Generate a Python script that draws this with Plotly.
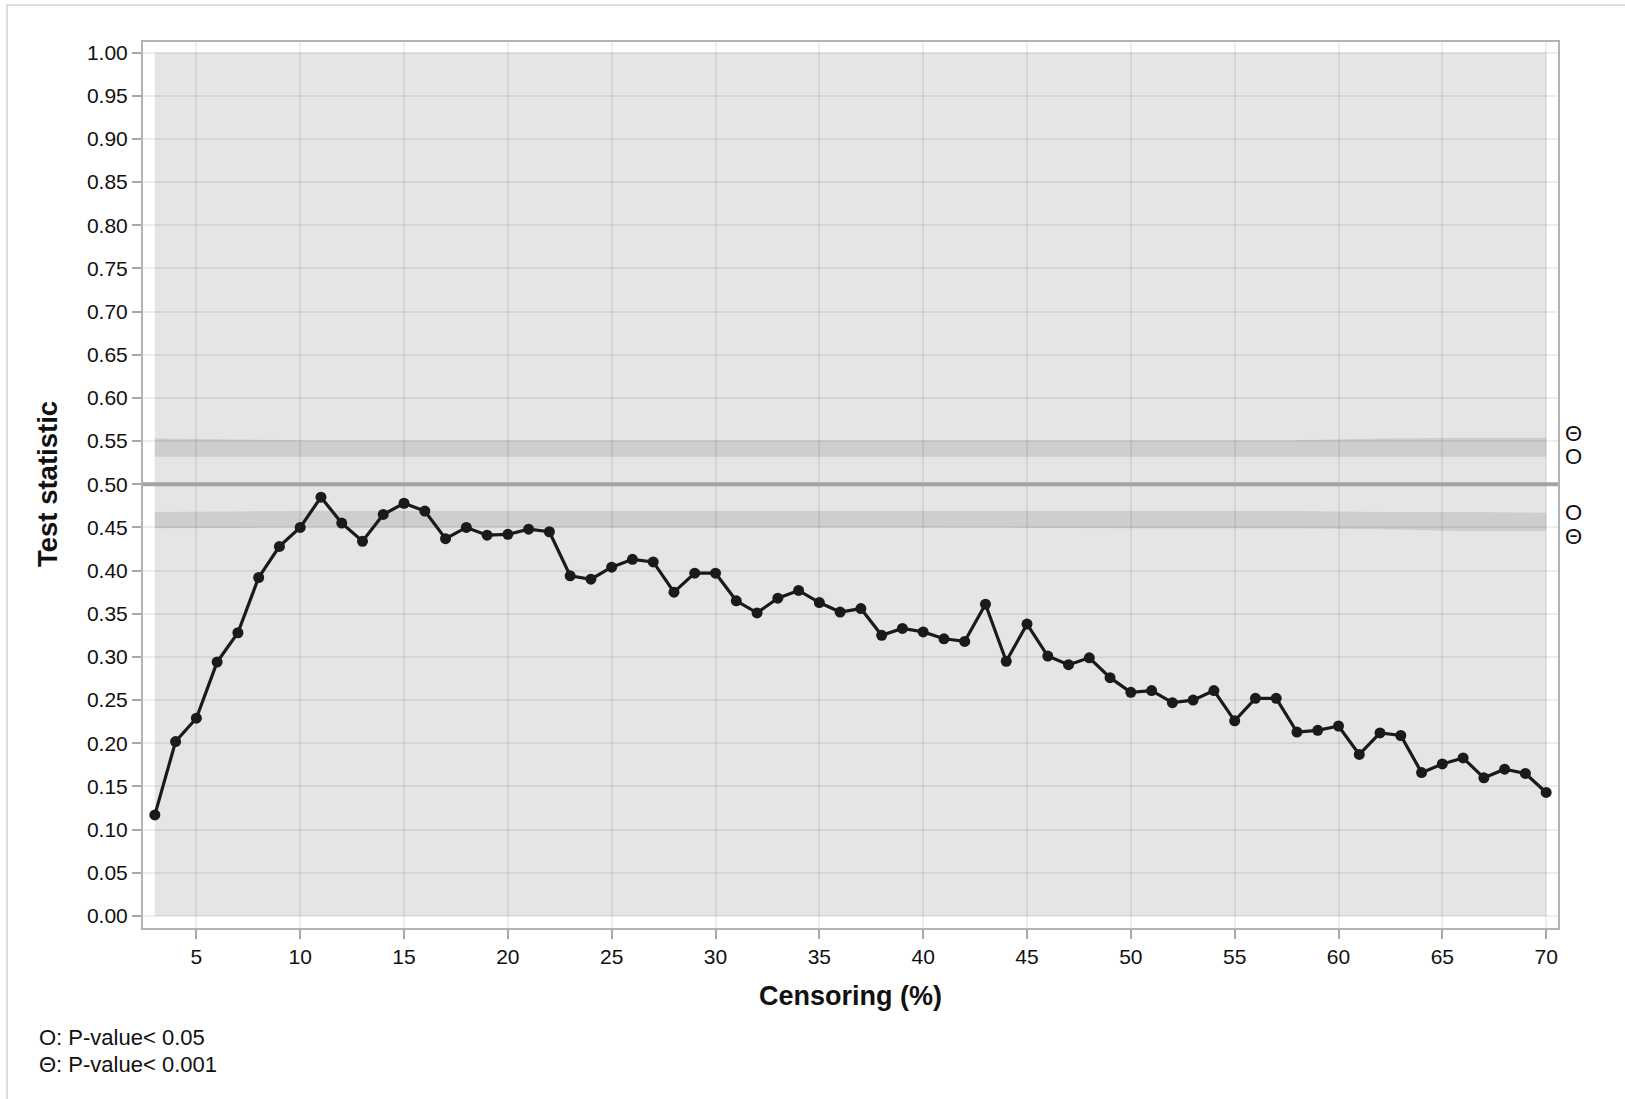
import plotly.graph_objects as go

# Censoring level (%) and observed test statistic
censoring = list(range(3, 71))
statistic = [
    0.117, 0.202, 0.229, 0.294, 0.328, 0.392, 0.428, 0.450, 0.485, 0.455,
    0.434, 0.465, 0.478, 0.469, 0.437, 0.450, 0.441, 0.442, 0.448, 0.445,
    0.394, 0.390, 0.404, 0.413, 0.410, 0.375, 0.397, 0.397, 0.365, 0.351,
    0.368, 0.377, 0.363, 0.352, 0.356, 0.325, 0.333, 0.329, 0.321, 0.318,
    0.361, 0.295, 0.338, 0.301, 0.291, 0.299, 0.276, 0.259, 0.261, 0.247,
    0.250, 0.261, 0.226, 0.252, 0.252, 0.213, 0.215, 0.220, 0.187, 0.212,
    0.209, 0.166, 0.176, 0.183, 0.160, 0.170, 0.165, 0.143,
]

# Critical-value bands (upper and lower) across the censoring range
band_x = [3, 10, 20, 30, 40, 50, 58, 62, 66, 70]
upper_p001 = [0.553, 0.551, 0.551, 0.551, 0.551, 0.551, 0.551, 0.553, 0.554, 0.554]
upper_p05 = [0.532, 0.532, 0.532, 0.532, 0.532, 0.532, 0.532, 0.532, 0.532, 0.532]
lower_p05 = [0.468, 0.469, 0.469, 0.469, 0.469, 0.469, 0.469, 0.468, 0.468, 0.467]
lower_p001 = [0.449, 0.450, 0.450, 0.450, 0.450, 0.449, 0.449, 0.448, 0.446, 0.446]

null_value = 0.5
y_ticks = [round(i * 0.05, 2) for i in range(21)]
x_ticks = list(range(5, 71, 5))

# Significance marks at the right edge: (y position, symbol)
sig_marks = [(0.559, "Θ"), (0.532, "O"), (0.467, "O"), (0.440, "Θ")]
footnotes = ["O: P-value< 0.05", "Θ: P-value< 0.001"]

FONT = "Arial, 'Liberation Sans', Helvetica, sans-serif"

W, H = 1625, 1099
L, R, T, B = 143, 67, 42, 171
pw, ph = W - L - R, H - T - B


def px_x(p):
    return (p - L) / pw


def px_y(p):
    return (H - B - p) / ph


def band_path(xs, lo, hi):
    pts = [f"{x},{y}" for x, y in zip(xs, hi)]
    pts += [f"{x},{y}" for x, y in zip(reversed(xs), reversed(lo))]
    return "M " + " L ".join(pts) + " Z"


shapes = [
    # outer frame
    dict(type="rect", xref="paper", yref="paper",
         x0=px_x(7), x1=px_x(1640), y0=px_y(5), y1=px_y(1120),
         line=dict(color="#d4d4d4", width=1.5), fillcolor="rgba(0,0,0,0)",
         layer="below"),
    # shaded range of the statistic
    dict(type="rect", xref="x", yref="y",
         x0=censoring[0], x1=censoring[-1], y0=0, y1=1,
         fillcolor="#e5e5e5", line=dict(width=0), layer="below"),
    dict(type="path", xref="x", yref="y",
         path=band_path(band_x, upper_p05, upper_p001),
         fillcolor="#cecece", line=dict(width=0), layer="below"),
    dict(type="path", xref="x", yref="y",
         path=band_path(band_x, lower_p001, lower_p05),
         fillcolor="#cecece", line=dict(width=0), layer="below"),
    # null reference line
    dict(type="line", xref="paper", yref="y",
         x0=0, x1=1, y0=null_value, y1=null_value,
         line=dict(color="#a3a3a3", width=4), layer="above"),
]

fig = go.Figure()
fig.add_trace(go.Scatter(
    x=censoring, y=statistic, mode="lines+markers",
    line=dict(color="#1a1a1a", width=3.2),
    marker=dict(color="#1a1a1a", size=11),
    showlegend=False, cliponaxis=False,
))

annotations = []
for yv, sym in sig_marks:
    annotations.append(dict(
        xref="paper", yref="y", x=px_x(1573), y=yv, text=sym,
        showarrow=False, xanchor="center", yanchor="middle",
        font=dict(family=FONT, size=22, color="#111111"),
    ))

annotations.append(dict(
    xref="paper", yref="paper", x=0.5, y=px_y(996), text="<b>Censoring (%)</b>",
    showarrow=False, xanchor="center", yanchor="middle",
    font=dict(family=FONT, size=27, color="#111111"),
))
annotations.append(dict(
    xref="paper", yref="paper", x=px_x(47), y=px_y(484), text="<b>Test statistic</b>",
    showarrow=False, xanchor="center", yanchor="middle", textangle=-90,
    font=dict(family=FONT, size=27.5, color="#111111"),
))
for i, txt in enumerate(footnotes):
    annotations.append(dict(
        xref="paper", yref="paper", x=px_x(37), y=px_y(1037 + 27 * i), text=txt,
        showarrow=False, xanchor="left", yanchor="middle",
        font=dict(family=FONT, size=22, color="#111111"),
    ))

grid_col = "rgba(0,0,0,0.065)"
axis_col = "#b3b3b3"

fig.update_layout(
    width=W, height=H,
    margin=dict(l=L, r=R, t=T, b=B),
    paper_bgcolor="white", plot_bgcolor="white",
    shapes=shapes, annotations=annotations,
    font=dict(family=FONT, color="#111111"),
    xaxis=dict(
        range=[2.43, 70.57], tickvals=x_ticks, ticktext=[str(v) for v in x_ticks],
        showgrid=True, gridcolor=grid_col, gridwidth=1.5, zeroline=False,
        showline=True, linecolor=axis_col, linewidth=2, mirror=True,
        ticks="outside", ticklen=9, tickwidth=1.5, tickcolor="#a8a8a8",
        tickfont=dict(size=21, family=FONT, color="#111111"),
    ),
    yaxis=dict(
        range=[-0.014, 1.0123], tickvals=y_ticks, ticktext=[f"{v:.2f}" for v in y_ticks],
        showgrid=True, gridcolor=grid_col, gridwidth=1.5, zeroline=False,
        showline=True, linecolor=axis_col, linewidth=2, mirror=True,
        ticks="outside", ticklen=9, tickwidth=1.5, tickcolor="#a8a8a8",
        tickfont=dict(size=21, family=FONT, color="#111111"),
    ),
)

fig.write_html("out.html")
